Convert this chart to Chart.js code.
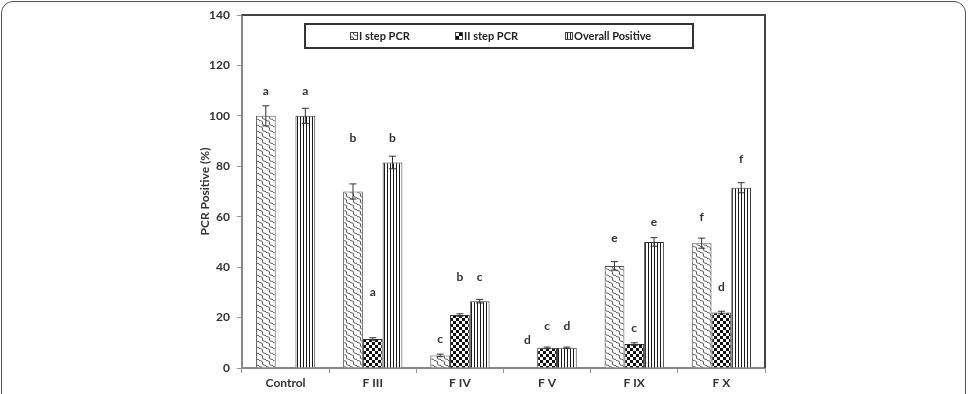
<!DOCTYPE html>
<html>
<head>
<meta charset="utf-8">
<script src="https://cdn.jsdelivr.net/npm/chart.js@4.4.1/dist/chart.umd.min.js"></script>
<style>
  body { margin: 0; background: #fff; }
  #frame {
    position: absolute; left: 1px; top: 1px; width: 963px; height: 430px;
    border: 1.5px solid #555; border-radius: 12px;
  }
  #wrap { position: absolute; left: 0; top: 0; width: 969px; height: 394px; }
</style>
</head>
<body>
<div id="frame"></div>
<div id="wrap"><canvas id="pcrChart" width="969" height="394"></canvas></div>
<script>
const categories = ["Control", "F III", "F IV", "F V", "F IX", "F X"];
const seriesNames = ["I step PCR", "II step PCR", "Overall Positive"];

const stepOne = [100, 70, 5, 0, 40.5, 49.5];
const stepTwo = [0, 11.5, 21, 8, 9.5, 22];
const overall = [100, 81.5, 26.5, 8, 50, 71.5];

const errStepOne = [4, 3, 0.5, 0, 1.7, 2];
const errStepTwo = [0, 0.5, 0.5, 0.3, 0.5, 0.5];
const errOverall = [3, 2.5, 0.7, 0.3, 1.7, 2];

// significance letters and the height (in %) where each one sits
const lettersOne = ["a", "b", "c", "d", "e", "f"];
const lettersTwo = ["", "a", "b", "c", "c", "d"];
const lettersAll = ["a", "b", "c", "d", "e", "f"];
const letterYOne = [110, 91, 11.5, 11, 51.5, 60];
const letterYTwo = [null, 30, 36, 16.7, 16, 32];
const letterYAll = [110, 91, 36, 16.7, 58, 83];

const yTicks = [0, 20, 40, 60, 80, 100, 120, 140];

function makePattern(kind) {
    const c = document.createElement("canvas");
    const g = c.getContext("2d");
    if (kind === "wave") {
        c.width = 7; c.height = 6;
        g.fillStyle = "#fff"; g.fillRect(0, 0, 7, 6);
        g.strokeStyle = "#555"; g.lineWidth = 1;
        g.beginPath();
        g.moveTo(-1, 0.5);
        g.quadraticCurveTo(4.5, 0.5, 3.5, 3);
        g.quadraticCurveTo(2.5, 5.5, 8, 5.5);
        g.stroke();
    } else if (kind === "check") {
        c.width = 6; c.height = 6;
        g.fillStyle = "#fff"; g.fillRect(0, 0, 6, 6);
        g.fillStyle = "#111";
        g.fillRect(0, 0, 3, 3);
        g.fillRect(3, 3, 3, 3);
    } else {
        c.width = 3; c.height = 3;
        g.fillStyle = "#fff"; g.fillRect(0, 0, 3, 3);
        g.fillStyle = "#1a1a1a"; g.fillRect(0, 0, 1, 3);
    }
    return g.createPattern(c, "repeat");
}

const fills = [makePattern("wave"), makePattern("check"), makePattern("stripe")];

const extrasPlugin = {
    id: "extras",
    afterDatasetsDraw(chart) {
        const ctx = chart.ctx;
        const y = chart.scales.y;
        const area = chart.chartArea;
        const errs = [errStepOne, errStepTwo, errOverall];
        const letters = [lettersOne, lettersTwo, lettersAll];
        const letterYs = [letterYOne, letterYTwo, letterYAll];

        // plot frame (top and right)
        ctx.save();
        ctx.strokeStyle = "#444";
        ctx.lineWidth = 2;
        ctx.beginPath();
        ctx.moveTo(area.left, area.top);
        ctx.lineTo(area.right, area.top);
        ctx.lineTo(area.right, area.bottom);
        ctx.stroke();

        chart.data.datasets.forEach((ds, di) => {
            const meta = chart.getDatasetMeta(di);
            meta.data.forEach((bar, i) => {
                const v = ds.data[i];
                const e = errs[di][i];
                if (v > 0 && e > 0) {
                    const top = y.getPixelForValue(v + e);
                    const bot = y.getPixelForValue(v - e);
                    ctx.strokeStyle = "#333";
                    ctx.lineWidth = 1;
                    ctx.beginPath();
                    ctx.moveTo(bar.x, top); ctx.lineTo(bar.x, bot);
                    ctx.moveTo(bar.x - 3.5, top); ctx.lineTo(bar.x + 3.5, top);
                    ctx.moveTo(bar.x - 3.5, bot); ctx.lineTo(bar.x + 3.5, bot);
                    ctx.stroke();
                }
                const lt = letters[di][i];
                const ly = letterYs[di][i];
                if (lt && ly != null) {
                    ctx.fillStyle = "#333";
                    ctx.font = "bold 12px Lato";
                    ctx.textAlign = "center";
                    ctx.textBaseline = "middle";
                    ctx.fillText(lt, bar.x, y.getPixelForValue(ly));
                }
            });
        });

        // legend box inside the plot
        ctx.strokeStyle = "#333";
        ctx.lineWidth = 2;
        ctx.strokeRect(305, 24, 388, 24);
        const legendX = [350, 455, 565];
        ctx.font = "bold 11px Lato";
        ctx.textAlign = "left";
        ctx.textBaseline = "middle";
        seriesNames.forEach((name, k) => {
            ctx.fillStyle = fills[k];
            ctx.fillRect(legendX[k], 32.5, 7, 7);
            ctx.strokeStyle = "#444";
            ctx.lineWidth = 1;
            ctx.strokeRect(legendX[k] + 0.5, 32.5, 7, 7);
            ctx.fillStyle = "#222";
            ctx.fillText(name, legendX[k] + 9, 36.5);
        });
        ctx.restore();
    }
};

const ctx = document.getElementById("pcrChart").getContext("2d");

new Chart(ctx, {
    type: "bar",
    data: {
        labels: categories,
        datasets: [
            { label: seriesNames[0], data: stepOne, backgroundColor: fills[0], borderColor: "#555", borderWidth: 1 },
            { label: seriesNames[1], data: stepTwo, backgroundColor: fills[1], borderColor: "#333", borderWidth: 1 },
            { label: seriesNames[2], data: overall, backgroundColor: fills[2], borderColor: "#333", borderWidth: 1 }
        ]
    },
    options: {
        responsive: false,
        animation: false,
        layout: { padding: { left: 194, right: 204, top: 15, bottom: 0 } },
        datasets: { bar: { categoryPercentage: 0.68, barPercentage: 1 } },
        plugins: { legend: { display: false }, tooltip: { enabled: false } },
        scales: {
            x: {
                grid: { drawOnChartArea: false, offset: true, tickLength: 5, color: "#999" },
                border: { color: "#888", width: 2 },
                ticks: { color: "#333", font: { family: "Lato", weight: "bold", size: 12 }, padding: 3 },
                afterFit: s => { s.height = 26; }
            },
            y: {
                min: 0,
                max: 140,
                afterBuildTicks: s => { s.ticks = yTicks.map(v => ({ value: v })); },
                grid: { drawOnChartArea: false, tickLength: 5, color: "#999" },
                border: { color: "#888", width: 2 },
                ticks: { color: "#333", font: { family: "Lato", weight: "bold", size: 12 }, padding: 7 },
                title: {
                    display: true,
                    text: "PCR Positive (%)",
                    color: "#333",
                    font: { family: "Lato", weight: "bold", size: 12 }
                },
                afterFit: s => { s.width = 48; }
            }
        }
    },
    plugins: [extrasPlugin]
});
</script>
</body>
</html>
